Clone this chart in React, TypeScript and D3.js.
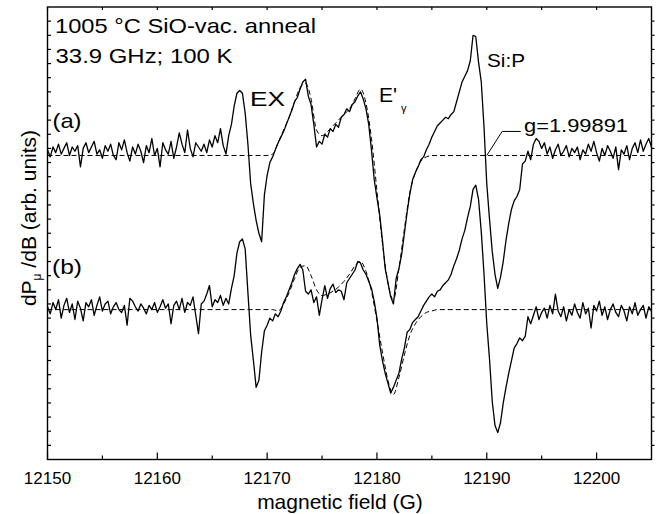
import React from "react";
import * as d3 from "d3";

// ---- data (arbitrary units; traces are offsets from their baselines) ----
const FIELD_START = 12150;
const FIELD_STEP = 0.25;
const OFFSET_A = 215;
const OFFSET_B = 106;

// trace (a), 221 samples, 12150 .. 12205 G
const TRACE_A = [
  4, -1, 6, 2, 8, 1, 5, 9, 0, 6,
  3, 7, -8, 5, 9, 2, 6, 10, 1, 4,
  -2, 7, 3, 8, 0, -3, 9, 4, 11, 2,
  -4, 6, 1, 8, 3, -5, 7, 2, 12, 0,
  5, -8, 9, 4, 1, 10, -2, 6, 16, 8,
  2, 18, 5, -1, 9, 6,
  3, 8, 2, 11, 6, 14, 9, 19, 7, 1,
  14, 22, 35, 44, 46, 44, 30, 8, -20, -34,
  -46, -55, -61, -28, -14, -5, -1, 4, 9, 13,
  17, 22, 27, 32, 38, 41, 47, 52, 54, 42,
  36, 22, 6, 10, 8, 15, 13, 19, 17, 22,
  20, 27, 29, 33, 31, 36, 38, 42, 45, 40,
  33, 22, 4, -17, -30, -42, -60, -80, -90, -100,
  -105, -87, -80, -70, -55, -40, -27, -17, -12, -8,
  -3, -1, 4, 8, 13, 17, 21, 23, 25, 27,
  26, 29, 31, 38, 45, 52, 56, 60, 67, 85,
  84, 66, 52, 20, -20, -45, -68, -84, -94, -86,
  -75, -60, -48, -38, -32, -29, -24, -6, -4, 3,
  -3, 8, 12, 10, 5,
  9, 1, 6, -2, 4, 8, 0, 3, 7, -1,
  5, 2, 6, -3, 4, 1, 8, 3, 10, 2,
  -4, 5, 0, 7, 3, -2, 6, -10, 4, 1,
  7, -3, 5, 9, 2, 11, 3, 8, 12, 6,
];

// trace (b), 221 samples
const TRACE_B = [
  2, -3, 5, 0, 7, -6, 3, 8, -2, 4,
  -7, 6, 1, -8, 5, 2, 7, -4, 3, 9,
  -1, 4, 6, -3, 2, 5, 0, -2, 3, -11,
  8, 6, 2, -1, 4, 1, -3, 3, 0, 5,
  -2, 2, 7, 1, 4, -10, 3, 6, 0, 8,
  -2, 5, 3, 9, -4, -17, 4, 6, 11, 17,
  2, 7, 5, 10, 3, 8, 4,
  15, 24, 40, 48, 50, 43, 12, -18, -36, -55,
  -50, -30, -15, -11, -6, -8, -3, -5, -1, 5,
  9, 14, 19, 25, 29, 32, 28, 13, 11, 14,
  5, 9, -4, 7, 17, 8, 15, 18, 12, 14,
  13, 7, 19, 22, 25, 28, 34, 33, 28, 25,
  20, 15, 6, -6, -25, -36, -45, -52, -59, -55,
  -50, -45, -35, -27, -16, -14, -9, -7, -5, -1,
  3, 6, 9, 11, 9, 13, 14, 17, 19, 21,
  25, 31, 36, 42, 50, 56, 65, 73, 85, 88,
  78, 55, 25, -10, -35, -65, -82, -87, -80, -66,
  -55, -45, -36, -27, -24, -20, -22, -19, -5, -10,
  -4, 2, -7, -2, 1, -6, 3, -3, 11, -1,
  -5, 2, -8, 0, -4, 4, -2, -6, 5, -3,
  1, -13, 3, -1, 6, -4, 2, -7, 0, 4,
  -2, -5, 3, -1, -8, 2, -3, 5, -4, 0,
  3, -6, 2, -1,
];

// dashed fits, 12170 .. 12185.5 G every 0.5 G (zero elsewhere)
const FIT_START = 12170;
const FIT_STEP = 0.5;
const FIT_A = [
  0, 1, 9, 18, 27, 38, 48, 51, 40, 18,
  14, 17, 21, 25, 29, 33, 40, 47, 37, 12,
  -25, -62, -90, -102, -80, -52, -26, -12, -4, -1,
  0, 0,
];
const FIT_B = [
  0, 0, -1, 4, 12, 22, 30, 31, 24, 14,
  10, 11, 13, 16, 20, 25, 31, 34, 27, 13,
  -8, -30, -50, -60, -48, -32, -18, -10, -5, -2,
  -1, 0,
];

const X_DOMAIN = [12150, 12205];
const X_TICK_LABELS = [12150, 12160, 12170, 12180, 12190, 12200];
const X_MINOR = [12155, 12165, 12175, 12185, 12195];
const Y_TICKS = d3.range(10, 320, 10);
const G_FIELD = 12190;
const G_LABEL = "g=1.99891";

const FONT = "'Liberation Sans', Arial, Helvetica, sans-serif";

export default function App() {
  const W = 657;
  const H = 514;
  const left = 47.5, right = 651.5, top = 7, bottom = 459.5;
  const x = d3.scaleLinear().domain(X_DOMAIN).range([left, right]);
  const y = d3.scaleLinear().domain([0, 320]).range([bottom, top]);

  const traceLine = (offset: number) =>
    d3
      .line<number>()
      .x((_, i) => x(FIELD_START + i * FIELD_STEP))
      .y((d) => y(offset + d));

  const fitPoints = (vals: number[]): [number, number][] => [
    [X_DOMAIN[0], 0],
    ...vals.map((v, i) => [FIT_START + i * FIT_STEP, v] as [number, number]),
    [X_DOMAIN[1], 0],
  ];
  const fitLine = (offset: number) =>
    d3
      .line<[number, number]>()
      .x((d) => x(d[0]))
      .y((d) => y(offset + d[1]))
      .curve(d3.curveMonotoneX);

  const leader: [number, number][] = [
    [G_FIELD, 0],
    [G_FIELD + 1.4, 17],
    [G_FIELD + 3.1, 17],
  ];
  const leaderLine = d3
    .line<[number, number]>()
    .x((d) => x(d[0]))
    .y((d) => y(OFFSET_A + d[1]));

  return (
    <svg
      width={W}
      height={H}
      style={{ position: "absolute", left: 0, top: 0, background: "#fff" }}
      fontFamily={FONT}
    >
      <rect x={0} y={0} width={W} height={H} fill="#fff" />
      {/* dashed fits */}
      <path d={fitLine(OFFSET_A)(fitPoints(FIT_A)) || ""} fill="none" stroke="#000" strokeWidth={1} strokeDasharray="5,3" />
      <path d={fitLine(OFFSET_B)(fitPoints(FIT_B)) || ""} fill="none" stroke="#000" strokeWidth={1} strokeDasharray="5,3" />
      {/* traces */}
      <path d={traceLine(OFFSET_A)(TRACE_A) || ""} fill="none" stroke="#000" strokeWidth={1.3} strokeLinejoin="round" />
      <path d={traceLine(OFFSET_B)(TRACE_B) || ""} fill="none" stroke="#000" strokeWidth={1.3} strokeLinejoin="round" />
      {/* g leader */}
      <path d={leaderLine(leader) || ""} fill="none" stroke="#000" strokeWidth={1} />

      {/* frame */}
      <rect x={left} y={top} width={right - left} height={bottom - top} fill="none" stroke="#000" strokeWidth={1.4} />
      {/* bottom / top ticks */}
      {X_TICK_LABELS.map((t) => (
        <g key={"xt" + t}>
          <line x1={x(t)} x2={x(t)} y1={bottom} y2={bottom - 7} stroke="#000" strokeWidth={1.2} />
          <line x1={x(t)} x2={x(t)} y1={top} y2={top + 3} stroke="#000" strokeWidth={1.2} />
          <text x={x(t)} y={484} fontSize={17} textAnchor="middle">
            {t}
          </text>
        </g>
      ))}
      {X_MINOR.map((t) => (
        <g key={"xm" + t}>
          <line x1={x(t)} x2={x(t)} y1={bottom} y2={bottom - 4} stroke="#000" strokeWidth={1.2} />
          <line x1={x(t)} x2={x(t)} y1={top} y2={top + 3} stroke="#000" strokeWidth={1.2} />
        </g>
      ))}
      {Y_TICKS.map((t) => (
        <g key={"yt" + t}>
          <line x1={left} x2={left + 3.5} y1={y(t)} y2={y(t)} stroke="#000" strokeWidth={1.2} />
          <line x1={right} x2={right + 3} y1={y(t)} y2={y(t)} stroke="#000" strokeWidth={1.2} />
        </g>
      ))}

      {/* axis titles */}
      <text x={340} y={508.5} fontSize={21} textAnchor="middle">
        magnetic field (G)
      </text>
      <text transform="translate(36,218) rotate(-90)" fontSize={21} textAnchor="middle">
        dP
        <tspan fontSize={12} dy={5}>μ</tspan>
        <tspan dy={-5}> /dB (arb. units)</tspan>
      </text>

      {/* annotations */}
      <text x={55} y={33.3} fontSize={21} textLength={261} lengthAdjust="spacingAndGlyphs">
        1005 °C SiO-vac. anneal
      </text>
      <text x={55.5} y={63.3} fontSize={21} textLength={177} lengthAdjust="spacingAndGlyphs">
        33.9 GHz; 100 K
      </text>
      <text x={52.5} y={128} fontSize={21} textLength={29} lengthAdjust="spacingAndGlyphs">
        (a)
      </text>
      <text x={52} y={274} fontSize={21} textLength={30} lengthAdjust="spacingAndGlyphs">
        (b)
      </text>
      <text x={250} y={106} fontSize={21} textLength={35} lengthAdjust="spacingAndGlyphs">
        EX
      </text>
      <text x={379} y={101.7} fontSize={21}>
        E'
      </text>
      <text x={401} y={112} fontSize={11}>
        γ
      </text>
      <text x={487} y={66.7} fontSize={19} textLength={38} lengthAdjust="spacingAndGlyphs">
        Si:P
      </text>
      <text x={524} y={132} fontSize={19} textLength={104} lengthAdjust="spacingAndGlyphs">
        {G_LABEL}
      </text>
    </svg>
  );
}
